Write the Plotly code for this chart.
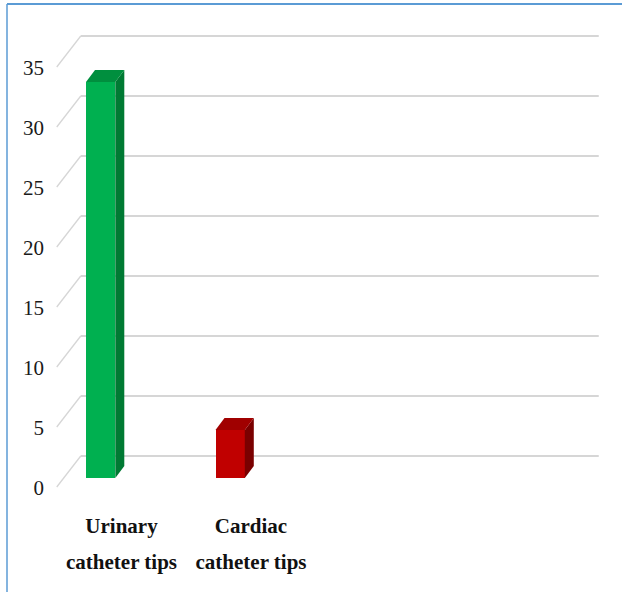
import plotly.graph_objects as go

# ---- data ----
categories = ["Urinary catheter tips", "Cardiac catheter tips"]
label_top = ["Urinary", "Cardiac"]
label_bottom = ["catheter tips", "catheter tips"]
counts = [33, 4]
y_ticks = [0, 5, 10, 15, 20, 25, 30, 35]
n_slots = 4

# ---- styling ----
front_colors = ["#00b050", "#c00000"]
side_colors = ["#007a33", "#7a0000"]
top_colors = ["#008f3e", "#a00000"]
grid_color = "#d6d6d6"
border_color = "#5b9bd5"

W, H = 622, 597
L, R, T, B = 48, 10, 20, 97
x_range = [-0.6216, 3.7336]
y_range = [-1.8333, 38.1667]

# oblique depth offsets (axis units)
bar_dx, bar_dy = 0.0695, 1.0        # depth of each column
back_dx, back_dy = 0.1313, 1.8333   # back wall relative to column plane
front_dx, front_dy = -0.054, -0.75  # floor front edge relative to column plane
bar_offset, bar_width = -0.328, 0.226

fig = go.Figure()

# column front faces
xs = list(range(len(categories)))
fig.add_trace(go.Bar(
    x=xs, y=counts, offset=bar_offset, width=bar_width,
    marker=dict(color=front_colors, line=dict(width=0)),
    hoverinfo="skip", showlegend=False,
))

# column side and top faces
for i, v in enumerate(counts):
    xl = i + bar_offset
    xr = xl + bar_width
    side_x = [xr, xr + bar_dx, xr + bar_dx, xr, xr]
    side_y = [0, bar_dy, v + bar_dy, v, 0]
    top_x = [xl, xr, xr + bar_dx, xl + bar_dx, xl]
    top_y = [v, v, v + bar_dy, v + bar_dy, v]
    for fx, fy, col in ((side_x, side_y, side_colors[i]), (top_x, top_y, top_colors[i])):
        fig.add_trace(go.Scatter(
            x=fx, y=fy, mode="lines", fill="toself", fillcolor=col,
            line=dict(width=0, color=col), hoverinfo="skip", showlegend=False,
        ))

# back-wall gridlines with their floor-edge connectors
shapes = []
x_left = -0.5
x_right = n_slots - 0.5
for v in y_ticks:
    shapes.append(dict(type="line", xref="x", yref="y", layer="below",
                       x0=x_left + back_dx, x1=x_right + back_dx,
                       y0=v + back_dy, y1=v + back_dy,
                       line=dict(color=grid_color, width=1.8)))
    shapes.append(dict(type="line", xref="x", yref="y", layer="below",
                       x0=x_left + front_dx, x1=x_left + back_dx,
                       y0=v + front_dy, y1=v + back_dy,
                       line=dict(color=grid_color, width=1.3)))

# outer frame (top and left edges)
pw, ph = W - L - R, H - T - B
def px_x(p):
    return (p - L) / pw
def px_y(p):
    return 1 - (p - T) / ph
shapes.append(dict(type="line", xref="paper", yref="paper",
                   x0=px_x(7), x1=px_x(W + 2), y0=px_y(4), y1=px_y(4),
                   line=dict(color=border_color, width=2)))
shapes.append(dict(type="line", xref="paper", yref="paper",
                   x0=px_x(7), x1=px_x(7), y0=px_y(4), y1=px_y(592),
                   line=dict(color=border_color, width=1.5)))

tick_text = [
    f"<span style='font-size:21px'><b>{a}</b></span><br><span style='font-size:21px'><b>{b}</b></span>"
    for a, b in zip(label_top, label_bottom)
]

fig.update_layout(
    width=W, height=H,
    margin=dict(l=L, r=R, t=T, b=B),
    paper_bgcolor="white", plot_bgcolor="white",
    shapes=shapes,
    showlegend=False,
    bargap=0,
    xaxis=dict(
        range=x_range, tickmode="array", tickvals=xs, ticktext=tick_text,
        showgrid=False, zeroline=False, showline=False, ticks="",
        tickfont=dict(family="Liberation Serif", size=28, color="#111111"),
        ticklabelshift=-7, ticklabelstandoff=4, fixedrange=True,
    ),
    yaxis=dict(
        range=y_range, tickmode="array", tickvals=y_ticks,
        showgrid=False, zeroline=False, showline=False, ticks="",
        tickfont=dict(family="Liberation Serif", size=21, color="#1a1a1a"),
        ticklabelshift=10, ticklabelstandoff=3, fixedrange=True,
    ),
)

fig.write_html("out.html")
